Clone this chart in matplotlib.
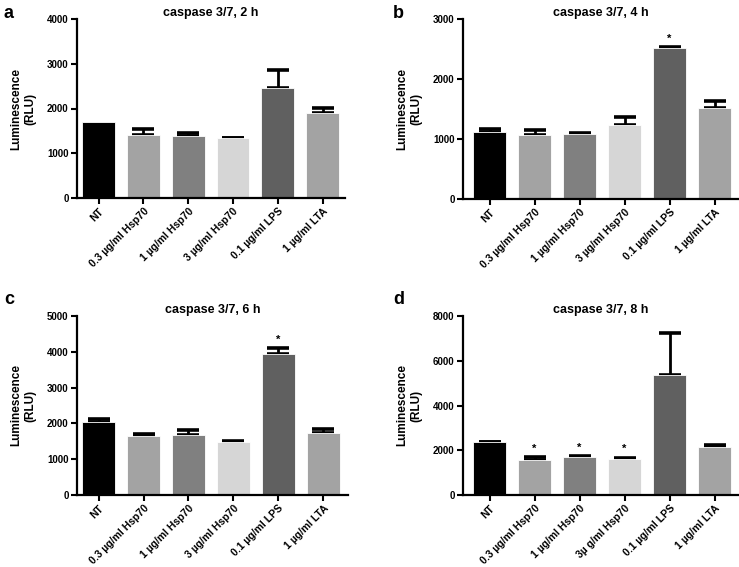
import matplotlib
matplotlib.use("Agg")
import matplotlib.pyplot as plt

plt.rcParams['font.family'] = ['Liberation Sans', 'DejaVu Sans']
plt.rcParams['font.weight'] = 'bold'
plt.rcParams['axes.titleweight'] = 'bold'
plt.rcParams['axes.labelweight'] = 'bold'

groups = ["NT", "0.3 \u00b5g/ml Hsp70", "1 \u00b5g/ml Hsp70", "3 \u00b5g/ml Hsp70",
          "0.1 \u00b5g/ml LPS", "1 \u00b5g/ml LTA"]
groups_d = ["NT", "0.3 \u00b5g/ml Hsp70", "1 \u00b5g/ml Hsp70", "3\u00b5 g/ml Hsp70",
            "0.1 \u00b5g/ml LPS", "1 \u00b5g/ml LTA"]
bar_colors = ["#000000", "#a3a3a3", "#808080", "#d6d6d6", "#606060", "#a3a3a3"]

# mean values and SEM (upper only) for each time point
h2_mean = [1690, 1400, 1380, 1330, 2450, 1910]
h2_err = [0, 140, 75, 5, 410, 95]
h4_mean = [1120, 1060, 1080, 1230, 2520, 1510]
h4_err = [50, 85, 15, 145, 12, 130]
h6_mean = [2050, 1650, 1670, 1480, 3930, 1730]
h6_err = [60, 60, 150, 15, 165, 120]
h8_mean = [2360, 1560, 1710, 1620, 5350, 2160]
h8_err = [15, 140, 25, 40, 1870, 60]

h4_star = [False, False, False, False, True, False]
h6_star = [False, False, False, False, True, False]
h8_star = [False, True, True, True, False, False]

panels = [
    ("a", "caspase 3/7, 2 h", h2_mean, h2_err, None, 4000, 1000, groups),
    ("b", "caspase 3/7, 4 h", h4_mean, h4_err, h4_star, 3000, 1000, groups),
    ("c", "caspase 3/7, 6 h", h6_mean, h6_err, h6_star, 5000, 1000, groups),
    ("d", "caspase 3/7, 8 h", h8_mean, h8_err, h8_star, 8000, 2000, groups_d),
]

W, H = 739, 567
boxes = [
    (77, 19, 345, 198),
    (463, 19, 738, 199),
    (77, 316, 348, 495),
    (463, 316, 738, 495),
]
letter_pos = [(4, 13), (393, 13), (4, 300), (393, 300)]
xlims = [(-0.48, 5.5), (-0.59, 5.52), (-0.48, 5.55), (-0.59, 5.52)]

fig = plt.figure(figsize=(W / 100, H / 100), dpi=100)

for i, (letter, title, mean, err, star, ymax, ystep, labels) in enumerate(panels):
    x0, y0, x1, y1 = boxes[i]
    ax = fig.add_axes([x0 / W, 1 - y1 / H, (x1 - x0) / W, (y1 - y0) / H])
    x = list(range(len(mean)))
    ax.bar(x, mean, width=0.73, color=bar_colors, edgecolor="white", linewidth=0.6, zorder=2)
    # only draw error bars where there is some spread
    ex = [xi for xi, e in zip(x, err) if e > 0]
    ey = [m for m, e in zip(mean, err) if e > 0]
    ee = [e for e in err if e > 0]
    ax.errorbar(ex, ey, yerr=[[0] * len(ee), ee], fmt="none", ecolor="black",
                elinewidth=2.0, capsize=8, capthick=2.6, zorder=1)
    if star is not None:
        for xi, m, e, s in zip(x, mean, err, star):
            if s:
                ax.text(xi, m + e + ymax * 0.02, "*", ha="center", va="bottom", fontsize=8)
    ax.set_xlim(*xlims[i])
    ax.set_ylim(0, ymax)
    ax.set_yticks(range(0, ymax + 1, ystep))
    ax.set_xticks(x)
    ax.set_xticklabels(labels, rotation=45, ha="right", rotation_mode="anchor", fontsize=7.5)
    ax.tick_params(axis="y", labelsize=7, width=1.5, length=4, pad=2)
    ax.tick_params(axis="x", width=1.5, length=4, pad=2)
    for sp in ["top", "right"]:
        ax.spines[sp].set_visible(False)
    for sp in ["left", "bottom"]:
        ax.spines[sp].set_linewidth(1.6)
    ax.set_ylabel("Luminescence\n(RLU)", fontsize=8.5, labelpad=8)
    ax.set_title(title, fontsize=9, pad=0)
    lx, ly = letter_pos[i]
    fig.text(lx / W, 1 - ly / H, letter, fontsize=13, fontweight="bold", va="center", ha="left")

fig.savefig("out.png", dpi=100)
